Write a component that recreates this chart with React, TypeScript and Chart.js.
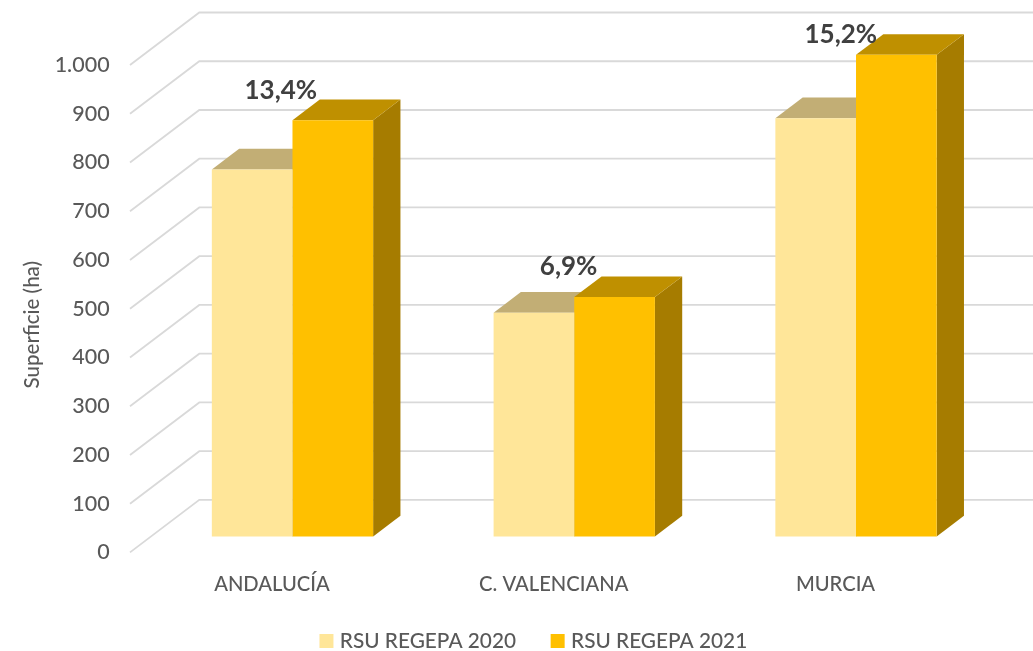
import React, { useEffect, useRef } from "react";
import { Chart, registerables } from "chart.js";

Chart.register(...registerables);

const categories = ["ANDALUCÍA", "C. VALENCIANA", "MURCIA"];
const seriesNames = ["RSU REGEPA 2020", "RSU REGEPA 2021"];
const values2020 = [753, 459, 858];
const values2021 = [854, 491, 988];
const growthLabels = ["13,4%", "6,9%", "15,2%"];

const FONT = "Lato";
const TEXT = "#595959";
const GRID = "#D9D9D9";
const FRONT = ["#FFE699", "#FFC000"];
const TOP = ["#C2AE75", "#BF9000"];
const SIDE = ["#A69665", "#A67C00"];
const WALL_DX = 69.3;
const WALL_DY = 52.5;
const WALL_INSET = 21.6;
const BAR_DX = 27.3;
const BAR_DY = 20.7;
const LABEL_SHIFT = [
  [-52, -29.3],
  [-46, -30],
  [-55.5, -20.7],
];
const LEGEND_SHIFT_X = 36.9;
const LEGEND_TOP = 592;

const poly = (ctx: CanvasRenderingContext2D, pts: number[][], fill: string) => {
  ctx.beginPath();
  pts.forEach((p, i) => (i ? ctx.lineTo(p[0], p[1]) : ctx.moveTo(p[0], p[1])));
  ctx.closePath();
  ctx.fillStyle = fill;
  ctx.fill();
};

const depthPlugin = {
  id: "depth",
  afterLayout(chart: any) {
    const lg = chart.legend;
    lg.left += LEGEND_SHIFT_X;
    lg.right += LEGEND_SHIFT_X;
    const h = lg.bottom - lg.top;
    lg.top = LEGEND_TOP;
    lg.bottom = lg.top + h;
    const s = chart.scales.y;
    if (!s.__patched) {
      const orig = s.drawTitle;
      s.drawTitle = function () {
        const c = s.ctx;
        c.save();
        c.translate(0, 16);
        orig.call(s);
        c.restore();
      };
      s.__patched = true;
    }
  },
  beforeDatasetsDraw(chart: any) {
    const { ctx, chartArea } = chart;
    const y = chart.scales.y;
    const x0 = chartArea.left - WALL_INSET;
    ctx.save();
    ctx.strokeStyle = GRID;
    ctx.lineWidth = 1.8;
    y.ticks.forEach((t: any) => {
      const py = y.getPixelForValue(t.value);
      ctx.beginPath();
      ctx.moveTo(x0, py);
      ctx.lineTo(x0 + WALL_DX, py - WALL_DY);
      ctx.lineTo(chart.width, py - WALL_DY);
      ctx.stroke();
    });
    chart.data.datasets.forEach((_: any, d: number) => {
      chart.getDatasetMeta(d).data.forEach((b: any) => {
        const l = b.x - b.width / 2;
        const r = b.x + b.width / 2;
        poly(ctx, [[r, b.y], [r + BAR_DX, b.y - BAR_DY], [r + BAR_DX, b.base - BAR_DY], [r, b.base]], SIDE[d]);
        poly(ctx, [[l, b.y], [l + BAR_DX, b.y - BAR_DY], [r + BAR_DX, b.y - BAR_DY], [r, b.y]], TOP[d]);
      });
    });
    ctx.restore();
  },
  afterDatasetsDraw(chart: any) {
    const { ctx } = chart;
    ctx.save();
    ctx.font = `bold 26px ${FONT}`;
    ctx.fillStyle = "#404040";
    ctx.textAlign = "center";
    ctx.textBaseline = "middle";
    chart.getDatasetMeta(1).data.forEach((b: any, i: number) => {
      ctx.fillText(growthLabels[i], b.x + LABEL_SHIFT[i][0], b.y + LABEL_SHIFT[i][1]);
    });
    ctx.restore();
  },
};

export default function App() {
  const ref = useRef<HTMLCanvasElement>(null);
  useEffect(() => {
    document.body.style.margin = "0";
    const chart = new Chart(ref.current as HTMLCanvasElement, {
      type: "bar",
      data: {
        labels: categories,
        datasets: [values2020, values2021].map((data, i) => ({
          label: seriesNames[i],
          data,
          yAxisID: "y1",
          backgroundColor: FRONT[i],
          borderWidth: 0,
          barPercentage: 1,
          categoryPercentage: 0.5725,
          clip: false as any,
        })),
      },
      options: {
        animation: false,
        responsive: false,
        layout: { padding: { left: 0, right: 36.1, top: 65, bottom: -14.1 } },
        plugins: {
          tooltip: { enabled: false },
          legend: {
            position: "bottom",
            labels: {
              usePointStyle: true,
              pointStyle: "rect",
              boxWidth: 6,
              boxHeight: 14,
              padding: 38.6,
              color: TEXT,
              font: { family: FONT, size: 20.8, weight: 500 },
            },
          },
        },
        scales: {
          x: {
            grid: { display: false, drawTicks: false },
            border: { display: false },
            ticks: {
              color: TEXT,
              font: { family: FONT, size: 20.2, weight: 500 },
              labelOffset: -20.5,
              padding: 20,
              autoSkip: false,
              maxRotation: 0,
            },
            afterFit(scale: any) {
              scale.height = 43.3;
            },
          },
          y: {
            min: 0,
            max: 1000,
            grid: { display: false, drawTicks: false },
            border: { display: false },
            ticks: {
              stepSize: 100,
              color: TEXT,
              font: { family: FONT, size: 21.5, weight: 500 },
              padding: 42,
              callback: (v: any) => Number(v).toLocaleString("de-DE"),
            },
            title: {
              display: true,
              text: "Superficie (ha)",
              color: TEXT,
              font: { family: FONT, size: 20.5, weight: 500 },
              padding: 20,
            },
            afterFit(scale: any) {
              scale.width = 151.6;
            },
          },
          y1: { display: false, min: -32.8, max: 967.2 },
        },
      },
      plugins: [depthPlugin],
    } as any);
    return () => chart.destroy();
  }, []);
  return <canvas ref={ref} width={1033} height={651} style={{ display: "block" }} />;
}
